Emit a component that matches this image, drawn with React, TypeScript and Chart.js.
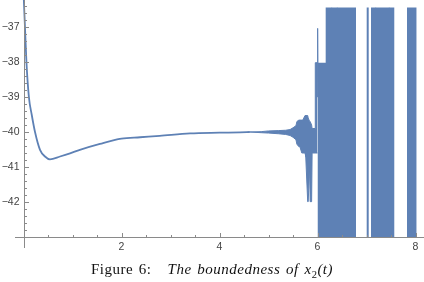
import React, { useEffect, useRef } from "react";
import { Chart, registerables } from "chart.js";

Chart.register(...registerables);

// smooth part of x2(t)
const curveT = [0, 0.03, 0.06, 0.11, 0.167, 0.235, 0.337, 0.439, 0.54, 0.745, 0.95, 1.15, 1.56, 2.0, 2.38, 2.78, 3.4, 4.0, 4.42, 4.62];
const curveY = [-36.0, -37.0, -38.0, -39.0, -39.5, -40.0, -40.51, -40.7, -40.78, -40.7, -40.61, -40.51, -40.34, -40.19, -40.15, -40.11, -40.04, -40.02, -40.01, -40.0];

// envelope of the fast oscillation that starts near t = 4.6
const envT = [4.62, 4.85, 5.0, 5.2, 5.35, 5.44, 5.5, 5.56, 5.58, 5.62, 5.64, 5.68, 5.70, 5.745, 5.76, 5.80, 5.81, 5.84, 5.85, 5.88, 5.89, 5.95, 5.955, 6.0];
const envUpper = [-40.0, -39.99, -39.97, -39.96, -39.95, -39.93, -39.88, -39.82, -39.7, -39.66, -39.66, -39.66, -39.66, -39.53, -39.53, -39.53, -39.6, -39.7, -39.7, -39.8, -39.9, -39.9, -38.02, -38.02];
const envLower = [-40.0, -40.02, -40.03, -40.05, -40.07, -40.1, -40.15, -40.22, -40.35, -40.42, -40.42, -40.6, -40.6, -40.6, -40.7, -41.99, -41.99, -41.0, -41.99, -41.99, -40.6, -40.6, -40.6, -40.6];

// single spike before the first block
const spikeT = [5.995, 6.003, 6.011];
const spikeY = [-39.0, -37.04, -39.0];

// solid blow-up regions
const blockStart = [6.0, 6.167, 7.004, 7.092, 7.827];
const blockEnd = [6.167, 6.786, 7.045, 7.567, 8.024];
const blockTop = [-38.02, -36.44, -36.44, -36.44, -36.44];
const blockBottom = -43;

// lighter stripes inside the blocks
const stripeT = [6.29, 6.404, 7.188, 7.465];

const xTickValues = [2, 4, 6, 8];
const xTickLabels = ["2", "4", "6", "8"];
const yTickValues = [-42, -41, -40, -39, -38, -37];
const yTickLabels = ["\u221242", "\u221241", "\u221240", "\u221239", "\u221238", "\u221237"];

const BLUE = "#5E81B5";

const axesPlugin = {
  id: "mmaAxes",
  afterDraw(chart: any) {
    const { ctx, chartArea, scales } = chart;
    const xs = scales.x;
    const ys = scales.y;
    const x0 = Math.round(xs.getPixelForValue(0)) + 0.5;
    const y0 = Math.round(ys.getPixelForValue(-43)) + 0.5;
    ctx.save();
    ctx.strokeStyle = "#8a8a8a";
    ctx.lineWidth = 1;
    ctx.beginPath();
    ctx.moveTo(x0, chartArea.top);
    ctx.lineTo(x0, chartArea.bottom);
    ctx.moveTo(chartArea.left, y0);
    ctx.lineTo(chartArea.right, y0);
    for (let v = -43; v <= -36.2; v += 0.2) {
      const p = Math.round(ys.getPixelForValue(v)) + 0.5;
      const major = Math.abs(v - Math.round(v)) < 1e-6;
      ctx.moveTo(x0, p);
      ctx.lineTo(x0 + (major ? 4.5 : 2.5), p);
    }
    for (let v = 0.5; v <= 8.2; v += 0.5) {
      const p = Math.round(xs.getPixelForValue(v)) + 0.5;
      const major = Math.abs(v / 2 - Math.round(v / 2)) < 1e-6;
      ctx.moveTo(p, y0);
      ctx.lineTo(p, y0 - (major ? 4.5 : 2.5));
    }
    ctx.stroke();
    ctx.fillStyle = "#444";
    ctx.font = "10.5px 'Liberation Sans', Arial, sans-serif";
    ctx.textAlign = "right";
    ctx.textBaseline = "middle";
    yTickValues.forEach((v, i) => {
      ctx.fillText(yTickLabels[i], x0 - 5, ys.getPixelForValue(v));
    });
    ctx.textAlign = "center";
    ctx.textBaseline = "top";
    xTickValues.forEach((v, i) => {
      ctx.fillText(xTickLabels[i], xs.getPixelForValue(v), y0 + 4);
    });
    ctx.restore();
  },
};

export default function App() {
  const ref = useRef<HTMLCanvasElement | null>(null);
  useEffect(() => {
    if (!ref.current) return;
    const curve = curveT.map((t, i) => ({ x: t, y: curveY[i] }));
    const upper = envT.map((t, i) => ({ x: t, y: envUpper[i] }));
    const lower = envT.map((t, i) => ({ x: t, y: envLower[i] }));
    const spike = spikeT.map((t, i) => ({ x: t, y: spikeY[i] }));
    const blocks: any[] = [];
    blockStart.forEach((s, i) => {
      blocks.push({ x: s, y: blockBottom });
      blocks.push({ x: s, y: blockTop[i] });
      blocks.push({ x: blockEnd[i], y: blockTop[i] });
      blocks.push({ x: blockEnd[i], y: blockBottom });
    });
    const stripes: any[] = [];
    stripeT.forEach((t) => {
      stripes.push({ x: t, y: blockBottom });
      stripes.push({ x: t, y: -36.44 });
      stripes.push({ x: t, y: null });
    });
    const chart = new Chart(ref.current, {
      type: "line",
      data: {
        datasets: [
          {
            data: blocks,
            borderWidth: 0,
            borderColor: "rgba(0,0,0,0)",
            backgroundColor: BLUE,
            fill: { value: blockBottom },
            pointRadius: 0,
            tension: 0,
          },
          {
            data: stripes,
            borderWidth: 1,
            borderColor: "rgba(175,198,232,0.9)",
            pointRadius: 0,
            spanGaps: false,
            fill: false,
          },
          {
            data: curve,
            borderWidth: 1.8,
            borderColor: BLUE,
            pointRadius: 0,
            cubicInterpolationMode: "monotone",
            fill: false,
          },
          {
            data: upper,
            borderWidth: 1,
            borderColor: BLUE,
            backgroundColor: BLUE,
            pointRadius: 0,
            tension: 0,
            fill: "+1",
          },
          {
            data: lower,
            borderWidth: 1,
            borderColor: BLUE,
            pointRadius: 0,
            tension: 0,
            fill: false,
          },
          {
            data: spike,
            borderWidth: 1,
            borderColor: BLUE,
            pointRadius: 0,
            tension: 0,
            fill: false,
          },
        ],
      },
      options: {
        animation: false,
        responsive: false,
        maintainAspectRatio: false,
        layout: { padding: { left: 15, right: 0, top: 0, bottom: 34 } },
        plugins: { legend: { display: false }, tooltip: { enabled: false }, title: { display: false } },
        scales: {
          x: { type: "linear", display: false, min: (15 - 23.5) / 49, max: (424 - 23.5) / 49 },
          y: { type: "linear", display: false, min: -43.314, max: -36.229 },
        },
      },
      plugins: [axesPlugin],
    });
    return () => chart.destroy();
  }, []);
  return (
    <div style={{ position: "fixed", left: 0, top: 0, width: 424, height: 282, background: "#fff" }}>
      <canvas ref={ref} width={424} height={282} style={{ width: 424, height: 282, display: "block" }} />
      <div
        style={{
          position: "absolute",
          left: 0,
          top: 261,
          width: 424,
          textAlign: "center",
          fontFamily: "'Liberation Serif', 'DejaVu Serif', serif",
          fontSize: 15,
          lineHeight: "16px",
          letterSpacing: 0.5,
          wordSpacing: 1.5,
          color: "#111",
          whiteSpace: "nowrap",
        }}
      >
        Figure 6:<span style={{ display: "inline-block", width: 16 }} />
        <i>The boundedness of x</i>
        <sub style={{ fontSize: 10.5, lineHeight: 0 }}>2</sub>
        <i>(t)</i>
      </div>
    </div>
  );
}
